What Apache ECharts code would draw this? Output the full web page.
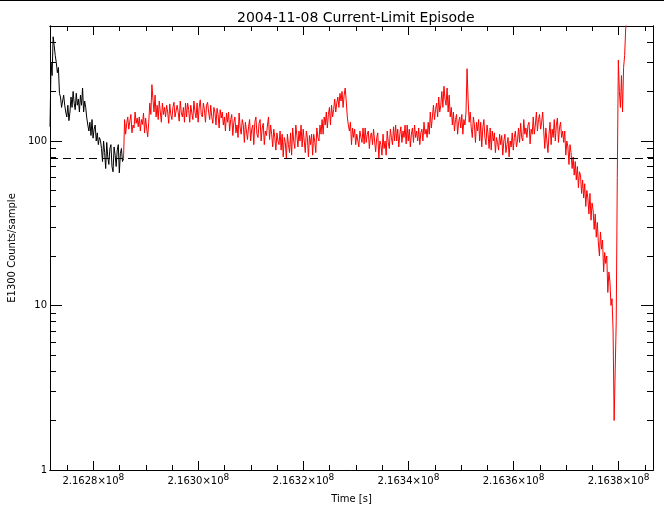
<!DOCTYPE html>
<html><head><meta charset="utf-8">
<script src="https://cdn.jsdelivr.net/npm/echarts@6/dist/echarts.min.js"></script>
<style>html,body{margin:0;padding:0;background:#fff}#c{width:664px;height:511px}</style>
</head><body><div id="c"></div><script>
const titleText = '2004-11-08 Current-Limit Episode';
const xName = 'Time [s]';
const yName = 'E1300 Counts/sample';
// regular sampling
const t0 = 216271750;
const dt = 200;
const blackCounts = [
122,300,250,430,380,330,300,260,280,195,
185,160,175,190,165,150,140,165,133,150,
185,160,200,170,155,195,165,180,150,190,
165,210,150,175,160,138,125,115,130,108,
135,104,118,125,100,112,95,105,101,90,
75,100,85,68,98,80,72,90,95,70,
65,92,82,70,88,95,64,84,90,75,
78];
const redStartIndex = 70;
const redCounts = [
78,135,110,128,140,118,132,145,112,125,
120,150,128,138,122,140,115,135,126,148,
112,138,120,106,130,170,145,220,180,150,
190,140,165,135,175,150,130,170,145,160,
140,165,150,128,168,145,135,160,172,140,
138,165,150,132,175,148,140,160,130,170,
140,170,155,130,165,148,135,175,150,138,
170,130,160,178,145,140,170,155,130,165,
172,150,135,165,140,128,160,150,125,158,
145,120,155,138,150,125,140,115,148,130,
150,115,135,145,108,130,140,112,125,105,
148,120,110,135,125,98,130,115,102,122,
135,100,118,125,95,130,140,110,105,128,
135,100,120,128,95,115,108,125,140,102,
125,110,92,118,105,88,112,100,95,115,
88,110,80,105,98,78,110,95,85,112,
82,120,100,90,125,108,92,115,100,125,
92,118,100,85,115,105,80,108,95,110,
82,110,100,85,120,105,100,125,110,135,
110,140,125,150,120,145,160,125,165,140,
155,180,150,170,185,160,195,175,200,160,
190,210,175,140,125,115,130,95,120,105,
118,95,110,112,92,115,105,98,120,96,
120,98,110,115,90,108,112,95,118,100,
86,105,112,78,100,95,82,110,90,100,
82,115,98,90,118,105,95,122,100,125,
100,118,92,110,122,98,115,105,125,96,
125,100,118,92,110,120,98,125,105,115,
100,120,95,112,118,100,130,110,118,105,
130,110,150,120,140,165,135,155,170,140,
185,150,165,200,160,215,180,165,210,150,
190,140,160,125,150,115,135,145,110,130,
140,120,145,110,135,125,150,275,180,130,
150,120,105,140,125,98,130,115,135,100,
130,92,120,135,105,95,125,110,90,120,
88,115,100,112,85,105,98,88,110,95,
108,82,100,110,85,95,105,80,100,92,
112,88,105,115,92,100,120,98,128,105,
100,135,110,120,105,125,130,96,118,110,
140,110,125,150,115,135,145,118,130,150,
115,90,120,100,85,110,130,95,118,105,
135,100,125,138,98,120,130,105,115,98,
115,82,100,92,72,95,85,68,80,62,
75,58,70,52,65,62,48,58,45,55,
40,50,45,36,48,33,42,38,29,36,
26,32,24,20,28,22,25,16,21,18,
20,12,16,14,10,11,7,2.0,4,8,
60,310,200,160,250,150,280,330,480,560];
const thresholdLevel = 78;
const xMin = 216271750, xMax = 216386550;
const yMin = 1, yMax = 500;
const xMajorTicks = [216280000,216300000,216320000,216340000,216360000,216380000];
const xMinorTicks = [216275000,216285000,216290000,216295000,216305000,216310000,216315000,216325000,216330000,216335000,216345000,216350000,216355000,216365000,216370000,216375000,216385000];
const yMajorTicks = [1,10,100];
const yMinorTicks = [2,3,4,5,6,7,8,9,20,30,40,50,60,70,80,90,200,300,400];

const FONT = 'DejaVu Sans';
const blackData = blackCounts.map((v,i)=>[t0+i*dt, v]);
const redData = redCounts.map((v,j)=>[t0+(redStartIndex+j)*dt, v]);

function xAx(pos, ticks, len, labels, extra){
  return Object.assign({
    type:'value', position:pos, min:xMin, max:xMax, scale:true,
    axisLine:{show:true, onZero:false, lineStyle:{color:'#000',width:1}},
    axisTick:{show:true, inside:true, length:len, customValues:ticks, lineStyle:{color:'#000',width:1}},
    axisLabel:labels ? {
      show:true, customValues:ticks, margin:3, color:'#000', fontFamily:FONT,
      formatter:v=>'{a|'+(v/1e8).toFixed(4)+'×10}{b|8}',
      rich:{a:{fontSize:10, fontFamily:FONT, color:'#000'}, b:{fontSize:9, fontFamily:FONT, color:'#000', padding:[0,0,8,0]}}
    } : {show:false},
    splitLine:{show:false}
  }, extra||{});
}
function yAx(pos, ticks, len, labels, extra){
  return Object.assign({
    type:'log', logBase:10, position:pos, min:yMin, max:yMax,
    axisLine:{show:true, onZero:false, lineStyle:{color:'#000',width:1}},
    axisTick:{show:true, inside:true, length:len, customValues:ticks, lineStyle:{color:'#000',width:1}},
    axisLabel:labels ? {show:true, customValues:ticks, margin:3, color:'#000', fontFamily:FONT, fontSize:10, formatter:v=>String(Math.round(v))} : {show:false},
    splitLine:{show:false}
  }, extra||{});
}

const chart = echarts.init(document.getElementById('c'), null, {renderer:'canvas'});
chart.setOption({
  animation:false,
  backgroundColor:'#fff',
  title:{text:titleText, left:232, top:6, textStyle:{fontFamily:FONT, fontSize:14, fontWeight:'normal', color:'#000'}},
  graphic:[{type:'line', shape:{x1:0,y1:0.5,x2:664,y2:0.5}, style:{stroke:'#000', lineWidth:1}}],
  grid:{left:50, right:11, top:26, bottom:41, show:false, containLabel:false, outerBoundsMode:'none'},
  xAxis:[
    xAx('bottom', xMajorTicks, 9, true, {name:xName, nameLocation:'middle', nameGap:24, nameTextStyle:{fontFamily:FONT, fontSize:10, color:'#000'}}),
    xAx('bottom', xMinorTicks, 5, false),
    xAx('top', xMajorTicks, 9, false),
    xAx('top', xMinorTicks, 5, false)
  ],
  yAxis:[
    yAx('left', yMajorTicks, 12, true, {name:yName, nameLocation:'middle', nameGap:33, nameRotate:90, nameTextStyle:{fontFamily:FONT, fontSize:10, color:'#000'}}),
    yAx('left', yMinorTicks, 6, false),
    yAx('right', yMajorTicks, 12, false),
    yAx('right', yMinorTicks, 6, false)
  ],
  series:[
    {type:'line', xAxisIndex:0, yAxisIndex:0, data:blackData, showSymbol:false, symbol:'none', clip:true,
     lineStyle:{color:'#000', width:1}, itemStyle:{color:'#000'},
     markLine:{silent:true, symbol:['none','none'], label:{show:false}, lineStyle:{color:'#000', width:1, type:[8,5]}, data:[{yAxis:thresholdLevel}], animation:false}},
    {type:'line', xAxisIndex:0, yAxisIndex:0, data:redData, showSymbol:false, symbol:'none', clip:true,
     lineStyle:{color:'#ff0000', width:1}, itemStyle:{color:'#ff0000'}}
  ]
});
</script></body></html>
